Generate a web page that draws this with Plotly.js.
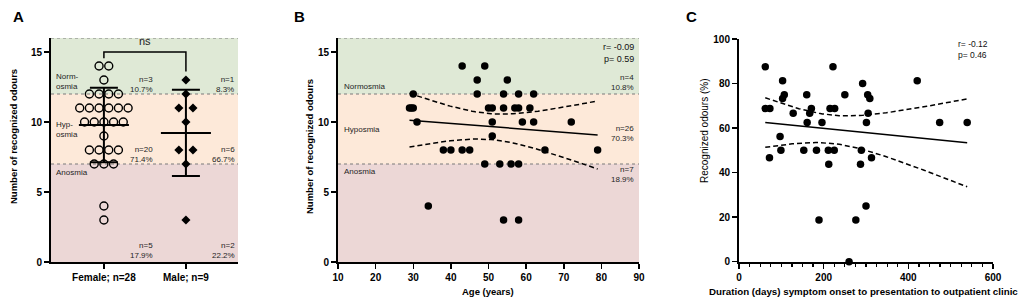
<!DOCTYPE html>
<html><head><meta charset="utf-8">
<script src="https://cdn.plot.ly/plotly-3.0.1.min.js"></script>
<style>html,body{margin:0;padding:0;background:#fff}#chart{width:1021px;height:302px}</style>
</head><body><div id="chart"></div>
<script>
// ---------- data ----------
const groups = ['Female; n=28', 'Male; n=9'];
const femaleOdours = [14,14,13,12,12,12,12,11,11,11,11,11,11,10,10,10,10,10,9,8,8,8,8,7,7,7,4,3];
const maleOdours = [13,12,11,11,10,8,8,7,3];
const bandEdges = [0, 7, 12, 16];
const bandColors = ['#ecd7d6', '#fde9d9', '#dfe9d6'];
const bandLabelsA = ['Anosmia', 'Hyp-<br>osmia', 'Norm-<br>osmia'];
const bandLabelsB = ['Anosmia', 'Hyposmia', 'Normosmia'];
const femaleBandText = ['n=5<br>17.9%', 'n=20<br>71.4%', 'n=3<br>10.7%'];
const maleBandText = ['n=2<br>22.2%', 'n=6<br>66.7%', 'n=1<br>8.3%'];
const sigText = 'ns';

const ageYears =   [43,49, 47,55, 30,47,54,58,62, 29,29.5,30,50,51,54,57,58,61, 31,51,59,62,72, 51, 38,40,43,45,65,79, 49,53,56,58, 34, 54,58];
const ageOdours =  [14,14, 13,13, 12,12,12,12,12, 11,11,11,11,11,11,11,11,11, 10,10,10,10,10,  9,  8, 8, 8, 8, 8, 8,  7, 7, 7, 7,  4,  3, 3];
const ageBandText = ['n=7<br>18.9%', 'n=26<br>70.3%', 'n=4<br>10.8%'];
const ageStats = 'r= -0.09<br>p= 0.59';

const durationDays = [62,62,73,72,103,107,103,97,99,128,160,153,161,167,171,183,189,196,222,215,226,211,225,212,250,260,276,292,287,289,300,304,309,305,301,313,421,474,539];
const recognizedPct = [87.5,68.75,68.75,46.7,81.25,75,73.3,56.25,50,66.7,75,50,62.5,66.7,68.75,50,18.75,62.5,87.5,68.75,68.75,50,50,43.75,75,0,18.75,80,43.75,50,25,75,73.3,66.7,62.5,46.7,81.25,62.5,62.5];
const durationStats = 'r= -0.12<br>p= 0.46';

// ---------- helpers ----------
const FONT = 'Liberation Sans, Arial, sans-serif';
function swarm(vals, center, pitch){
  const counts = {}, idx = {};
  vals.forEach(v => counts[v] = (counts[v]||0)+1);
  return vals.map(v => { idx[v] = (idx[v]||0); const i = idx[v]++; return center + (i-(counts[v]-1)/2)*pitch; });
}
function meanSd(v){
  const n=v.length, m=v.reduce((a,b)=>a+b,0)/n;
  const sd=Math.sqrt(v.reduce((a,b)=>a+(b-m)*(b-m),0)/(n-1));
  return [m, sd];
}
function regression(xs, ys, tcrit){
  const n=xs.length, mx=xs.reduce((a,b)=>a+b,0)/n, my=ys.reduce((a,b)=>a+b,0)/n;
  let sxx=0,sxy=0,syy=0;
  for(let i=0;i<n;i++){sxx+=(xs[i]-mx)**2; sxy+=(xs[i]-mx)*(ys[i]-my); syy+=(ys[i]-my)**2;}
  const b=sxy/sxx, a=my-b*mx, s=Math.sqrt((syy-b*sxy)/(n-2));
  const lo=Math.min(...xs), hi=Math.max(...xs), gx=[], fit=[], up=[], dn=[];
  for(let k=0;k<=60;k++){
    const x=lo+(hi-lo)*k/60, y=a+b*x, h=tcrit*s*Math.sqrt(1/n+(x-mx)**2/sxx);
    gx.push(x); fit.push(y); up.push(y+h); dn.push(y-h);
  }
  return {gx, fit, up, dn};
}

const traces = [];
// ---------- panel A ----------
const [fm, fsd] = meanSd(femaleOdours);
const [mm, msd] = meanSd(maleOdours);
traces.push({x: swarm(femaleOdours, 0, 0.118), y: femaleOdours, type:'scatter', mode:'markers',
  marker:{symbol:'circle-open', size:8, color:'#000', line:{width:1.4}}, xaxis:'x', yaxis:'y', cliponaxis:false});
traces.push({x: swarm(maleOdours, 1, 0.172), y: maleOdours, type:'scatter', mode:'markers',
  marker:{symbol:'diamond', size:7, color:'#000'}, xaxis:'x', yaxis:'y', cliponaxis:false});
[[0,fm,fsd,14],[1,mm,msd,14]].forEach(([c,m,sd,w])=>{
  traces.push({x:[c], y:[m], type:'scatter', mode:'markers', marker:{size:1, color:'rgba(0,0,0,0)'},
    error_y:{type:'data', array:[sd], symmetric:true, width:w, thickness:2, color:'#000'}, xaxis:'x', yaxis:'y'});
  traces.push({x:[c-0.305, c+0.305], y:[m,m], type:'scatter', mode:'lines', line:{color:'#000', width:2}, xaxis:'x', yaxis:'y'});
});

// ---------- panel B ----------
const rb = regression(ageYears, ageOdours, 2.030);
traces.push({x: ageYears, y: ageOdours, type:'scatter', mode:'markers', marker:{size:7.5, color:'#000'}, xaxis:'x2', yaxis:'y2', cliponaxis:false});
traces.push({x: rb.gx, y: rb.fit, type:'scatter', mode:'lines', line:{color:'#000', width:1.5}, xaxis:'x2', yaxis:'y2'});
traces.push({x: rb.gx, y: rb.up, type:'scatter', mode:'lines', line:{color:'#000', width:1.5, dash:'5px,3px'}, xaxis:'x2', yaxis:'y2'});
traces.push({x: rb.gx, y: rb.dn, type:'scatter', mode:'lines', line:{color:'#000', width:1.5, dash:'5px,3px'}, xaxis:'x2', yaxis:'y2'});

// ---------- panel C ----------
const rc = regression(durationDays, recognizedPct, 2.026);
traces.push({x: durationDays, y: recognizedPct, type:'scatter', mode:'markers', marker:{size:7.5, color:'#000'}, xaxis:'x3', yaxis:'y3', cliponaxis:false});
traces.push({x: rc.gx, y: rc.fit, type:'scatter', mode:'lines', line:{color:'#000', width:1.5}, xaxis:'x3', yaxis:'y3'});
traces.push({x: rc.gx, y: rc.up, type:'scatter', mode:'lines', line:{color:'#000', width:1.5, dash:'5px,3px'}, xaxis:'x3', yaxis:'y3'});
traces.push({x: rc.gx, y: rc.dn, type:'scatter', mode:'lines', line:{color:'#000', width:1.5, dash:'5px,3px'}, xaxis:'x3', yaxis:'y3'});

// ---------- shapes ----------
const shapes = [];
[['x','y'],['x2','y2']].forEach(([xa,ya])=>{
  for(let i=0;i<3;i++){
    shapes.push({type:'rect', xref:xa+' domain', yref:ya, x0:0, x1:1, y0:bandEdges[i], y1:bandEdges[i+1],
      fillcolor:bandColors[i], line:{width:0}, layer:'below'});
  }
  for(let i=1;i<4;i++){
    shapes.push({type:'line', xref:xa+' domain', yref:ya, x0:0, x1:1, y0:bandEdges[i], y1:bandEdges[i],
      line:{color:'#7a7a7a', width:1.2, dash:'dot'}, layer:'below'});
  }
});
shapes.push({type:'path', xref:'x', yref:'y', path:'M0,14.55 L0,15 L1,15 L1,13.6', line:{color:'#000', width:1.5}});

// ---------- annotations ----------
const small = {family:FONT, size:8, color:'#1e1e1e'};
const ann = [];
// panel A band names
ann.push({xref:'x domain', yref:'y', x:0.015, y:12.9, text:bandLabelsA[2], showarrow:false, xanchor:'left', yanchor:'middle', align:'left', font:small});
ann.push({xref:'x domain', yref:'y', x:0.015, y:9.45, text:bandLabelsA[1], showarrow:false, xanchor:'left', yanchor:'middle', align:'left', font:small});
ann.push({xref:'x domain', yref:'y', x:0.015, y:6.4, text:bandLabelsA[0], showarrow:false, xanchor:'left', yanchor:'middle', align:'left', font:small});
const aYs = [0.8, 7.7, 12.7];
for(let i=0;i<3;i++){
  ann.push({xref:'x', yref:'y', x:0.625, y:aYs[i], text:femaleBandText[i], showarrow:false, xanchor:'right', yanchor:'middle', align:'right', font:small});
  ann.push({xref:'x domain', yref:'y', x:0.995, y:aYs[i], text:maleBandText[i], showarrow:false, xanchor:'right', yanchor:'middle', align:'right', font:small});
}
ann.push({xref:'x', yref:'y', x:0.5, y:15.75, text:sigText, showarrow:false, xanchor:'center', yanchor:'middle', font:{family:FONT, size:11, color:'#222'}});
// panel B
ann.push({xref:'x2 domain', yref:'y2', x:0.013, y:12.55, text:bandLabelsB[2], showarrow:false, xanchor:'left', yanchor:'middle', font:small});
ann.push({xref:'x2 domain', yref:'y2', x:0.013, y:9.5, text:bandLabelsB[1], showarrow:false, xanchor:'left', yanchor:'middle', font:small});
ann.push({xref:'x2 domain', yref:'y2', x:0.013, y:6.5, text:bandLabelsB[0], showarrow:false, xanchor:'left', yanchor:'middle', font:small});
const bYs = [6.25, 9.15, 12.8];
for(let i=0;i<3;i++){
  ann.push({xref:'x2 domain', yref:'y2', x:0.99, y:bYs[i], text:ageBandText[i], showarrow:false, xanchor:'right', yanchor:'middle', align:'right', font:small});
}
ann.push({xref:'x2 domain', yref:'y2', x:0.99, y:14.95, text:ageStats, showarrow:false, xanchor:'right', yanchor:'middle', align:'right', font:{family:FONT, size:9, color:'#111'}});
// panel C
ann.push({xref:'paper', yref:'paper', x:956/1021, y:1-50/302, text:durationStats, showarrow:false, xanchor:'left', yanchor:'middle', align:'left', font:{family:FONT, size:8.5, color:'#111'}});
// panel letters
[['A',11],['B',292],['C',684]].forEach(([t,px])=>{
  ann.push({xref:'paper', yref:'paper', x:px/1021, y:1-17/302, text:t, showarrow:false, xanchor:'left', yanchor:'middle', font:{family:FONT, size:15, color:'#000', weight:'bold'}});
});
// axis titles
const titleFont = {family:FONT, size:9.5, color:'#000', weight:'bold'};
ann.push({xref:'paper', yref:'paper', x:13/1021, y:1-137/302, text:'Number of recognized odours', textangle:-90, showarrow:false, xanchor:'center', yanchor:'middle', font:titleFont});
ann.push({xref:'paper', yref:'paper', x:310/1021, y:1-147/302, text:'Number of recognized odours', textangle:-90, showarrow:false, xanchor:'center', yanchor:'middle', font:titleFont});
ann.push({xref:'paper', yref:'paper', x:488/1021, y:1-291/302, text:'Age (years)', showarrow:false, xanchor:'center', yanchor:'middle', font:titleFont});
ann.push({xref:'paper', yref:'paper', x:704/1021, y:1-131/302, text:'Recognized odours (%)', textangle:-90, showarrow:false, xanchor:'center', yanchor:'middle', font:{family:FONT, size:10, color:'#000'}});
ann.push({xref:'paper', yref:'paper', x:863/1021, y:1-291/302, text:'Duration (days) symptom onset to presentation to outpatient clinic', showarrow:false, xanchor:'center', yanchor:'middle', font:{family:FONT, size:9.75, color:'#000', weight:'bold'}});

// ---------- axes ----------
const tickFont = {family:FONT, size:10, color:'#000', weight:'bold'};
const base = {showline:true, linecolor:'#000', linewidth:2, ticks:'outside', ticklen:5, tickwidth:1.5, tickcolor:'#000',
  showgrid:false, zeroline:false, tickfont:tickFont, fixedrange:true};
const yDom = [40/302, 264/302];
const layout = {
  width:1021, height:302, margin:{l:0,r:0,t:0,b:0}, paper_bgcolor:'#fff', plot_bgcolor:'rgba(0,0,0,0)',
  showlegend:false, font:{family:FONT},
  xaxis: Object.assign({}, base, {domain:[51/1021, 238/1021], range:[-0.645, 1.635], tickvals:[0,1], ticktext:groups, anchor:'y'}),
  yaxis: Object.assign({}, base, {domain:yDom, range:[0,16], tickvals:[0,5,10,15], anchor:'x'}),
  xaxis2: Object.assign({}, base, {domain:[338/1021, 639/1021], range:[10,90], dtick:10, tick0:10, anchor:'y2'}),
  yaxis2: Object.assign({}, base, {domain:yDom, range:[0,16], tickvals:[0,5,10,15], anchor:'x2'}),
  xaxis3: Object.assign({}, base, {domain:[739/1021, 993/1021], range:[0,600], tickvals:[0,200,400,600], anchor:'y3',
    minor:{dtick:25, tick0:0, ticks:'outside', ticklen:3, tickwidth:1.2, tickcolor:'#000', showgrid:false}}),
  yaxis3: Object.assign({}, base, {domain:[40.3/302, 263/302], range:[0,100], dtick:20, anchor:'x3'}),
  shapes, annotations: ann
};
Plotly.newPlot('chart', traces, layout, {displayModeBar:false, staticPlot:true});
</script></body></html>
